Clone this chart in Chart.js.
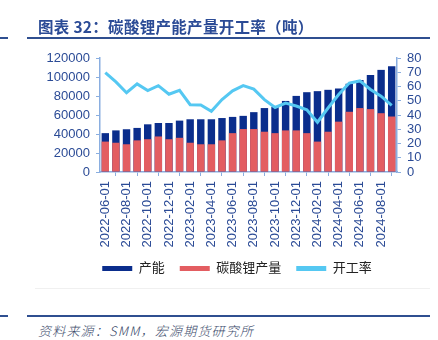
<!DOCTYPE html>
<html>
<head>
<meta charset="utf-8">
<script src="https://cdn.jsdelivr.net/npm/chart.js@4/dist/chart.umd.min.js"></script>
<style>
  html, body { margin: 0; padding: 0; background: #fff; }
  #wrap { position: relative; width: 438px; height: 340px; overflow: hidden; }
  #title { position: absolute; left: 38px; top: 15px; font: bold 15.5px "Noto Sans CJK SC", sans-serif; color: #2b4b96; white-space: nowrap; letter-spacing: 0.3px; }
  .rule { position: absolute; height: 2px; background: #2f4f90; }
  .faint { position: absolute; height: 1px; background: #f0f0f0; }
  #source { position: absolute; left: 38px; top: 321px; font: italic 300 13px "Noto Sans CJK SC", sans-serif; color: #3a4a6a; letter-spacing: 1.2px; white-space: nowrap; }
  #chart { position: absolute; left: 0; top: 0; }
</style>
</head>
<body>
<div id="wrap">
  <canvas id="chart" width="438" height="300"></canvas>
  <div id="title">图表 32：碳酸锂产能产量开工率（吨）</div>
  <div class="rule" style="left:0;width:8px;top:37px"></div>
  <div class="rule" style="left:27px;width:403px;top:37px"></div>
  <div class="faint" style="left:35px;width:395px;top:288px"></div>
  <div class="rule" style="left:0;width:8px;top:315px"></div>
  <div class="rule" style="left:27px;width:403px;top:315px"></div>
  <div id="source">资料来源：SMM，宏源期货研究所</div>
</div>
<script>
// Monthly lithium carbonate capacity, output (tonnes) and operating rate (%)
const months = [
  '2022-06-01','2022-07-01','2022-08-01','2022-09-01','2022-10-01','2022-11-01','2022-12-01',
  '2023-01-01','2023-02-01','2023-03-01','2023-04-01','2023-05-01','2023-06-01','2023-07-01',
  '2023-08-01','2023-09-01','2023-10-01','2023-11-01','2023-12-01','2024-01-01','2024-02-01',
  '2024-03-01','2024-04-01','2024-05-01','2024-06-01','2024-07-01','2024-08-01','2024-09-01'
];
const capacity = [40900, 43800, 45000, 46400, 50200, 51600, 51600, 54100, 55500, 55500, 55500, 56800, 58000, 59100,
                  63000, 67300, 68400, 74800, 80100, 84000, 85100, 86500, 87900, 92900, 96800, 102200, 107500, 111400];
const production = [32000, 30800, 29200, 33300, 34500, 37400, 34500, 36000, 30800, 29200, 29200, 33300, 40900, 45200,
                    45200, 42400, 40900, 43800, 43800, 40900, 32000, 42400, 53000, 63400, 67300, 66200, 61900, 58400];
const operatingRate = [69.8, 63.2, 55.6, 61.8, 57.2, 60.6, 54.6, 57.3, 47.2, 47.0, 42.6, 50.8, 57.0, 60.6,
                       58.2, 50.8, 45.3, 48.4, 46.3, 43.7, 34.9, 44.9, 54.4, 62.4, 63.9, 57.9, 53.2, 46.8];
const leftTicks = [0, 20000, 40000, 60000, 80000, 100000, 120000];
const rightTicks = [0, 10, 20, 30, 40, 50, 60, 70, 80];
const seriesNames = ['产能', '碳酸锂产量', '开工率'];

const navy = '#0a2d8c';
const red = '#e35d61';
const cyan = '#55c8f2';
const axisBlue = '#8aaee0';
const textBlue = '#2b4b96';
const swatch = [navy, red, cyan];
const latin = '"Liberation Sans", "Noto Sans CJK SC", sans-serif';

const baseLabels = Chart.defaults.plugins.legend.labels.generateLabels;

new Chart(document.getElementById('chart'), {
  type: 'bar',
  data: {
    labels: months,
    datasets: [
      { label: seriesNames[0], data: capacity, backgroundColor: navy, borderColor: navy, borderWidth: 0, yAxisID: 'y', order: 3 },
      { label: seriesNames[1], data: production, backgroundColor: red, borderColor: red, borderWidth: 0, yAxisID: 'y', order: 2 },
      { label: seriesNames[2], data: operatingRate, type: 'line', borderColor: cyan, backgroundColor: cyan,
        borderWidth: 3, pointRadius: 0, tension: 0, yAxisID: 'y1', order: 1 }
    ]
  },
  options: {
    responsive: false,
    animation: false,
    layout: { padding: { top: 58, left: 36, right: 0, bottom: 15 } },
    datasets: { bar: { categoryPercentage: 1, barPercentage: 0.7 } },
    plugins: {
      tooltip: { enabled: false },
      legend: {
        position: 'bottom',
        labels: {
          boxWidth: 30, boxHeight: 5, padding: 15,
          color: '#222', font: { family: latin, size: 13 },
          sort: (a, b) => a.datasetIndex - b.datasetIndex,
          generateLabels: chart => baseLabels(chart).map(l => Object.assign(l, {
            lineWidth: 0, fillStyle: swatch[l.datasetIndex], strokeStyle: swatch[l.datasetIndex]
          }))
        }
      }
    },
    scales: {
      x: {
        stacked: true,
        offset: true,
        grid: { offset: true, drawOnChartArea: false, drawTicks: true, tickLength: 4, color: axisBlue },
        border: { color: axisBlue, width: 1.5 },
        ticks: {
          autoSkip: false, minRotation: 90, maxRotation: 90, padding: 5,
          color: textBlue, font: { family: latin, size: 13 },
          callback: function (v, i) { return i % 2 === 0 ? this.getLabelForValue(v) : null; }
        },
        afterFit: s => { s.height = 75; }
      },
      y: {
        position: 'left',
        min: 0, max: 120000,
        afterBuildTicks: s => { s.ticks = leftTicks.map(v => ({ value: v })); },
        grid: { drawOnChartArea: false, drawTicks: true, tickLength: 4, color: axisBlue },
        border: { color: axisBlue, width: 1.5 },
        ticks: { autoSkip: false, padding: 6, color: textBlue, font: { family: latin, size: 13 }, callback: v => String(v) },
        afterFit: s => { s.width = 64; }
      },
      y1: {
        position: 'right',
        min: 0, max: 80,
        afterBuildTicks: s => { s.ticks = rightTicks.map(v => ({ value: v })); },
        grid: { drawOnChartArea: false, drawTicks: true, tickLength: 4, color: axisBlue },
        border: { color: axisBlue, width: 1.5 },
        ticks: { autoSkip: false, padding: 6, color: textBlue, font: { family: latin, size: 13 }, callback: v => String(v) },
        afterFit: s => { s.width = 41; }
      }
    }
  }
});
</script>
</body>
</html>
